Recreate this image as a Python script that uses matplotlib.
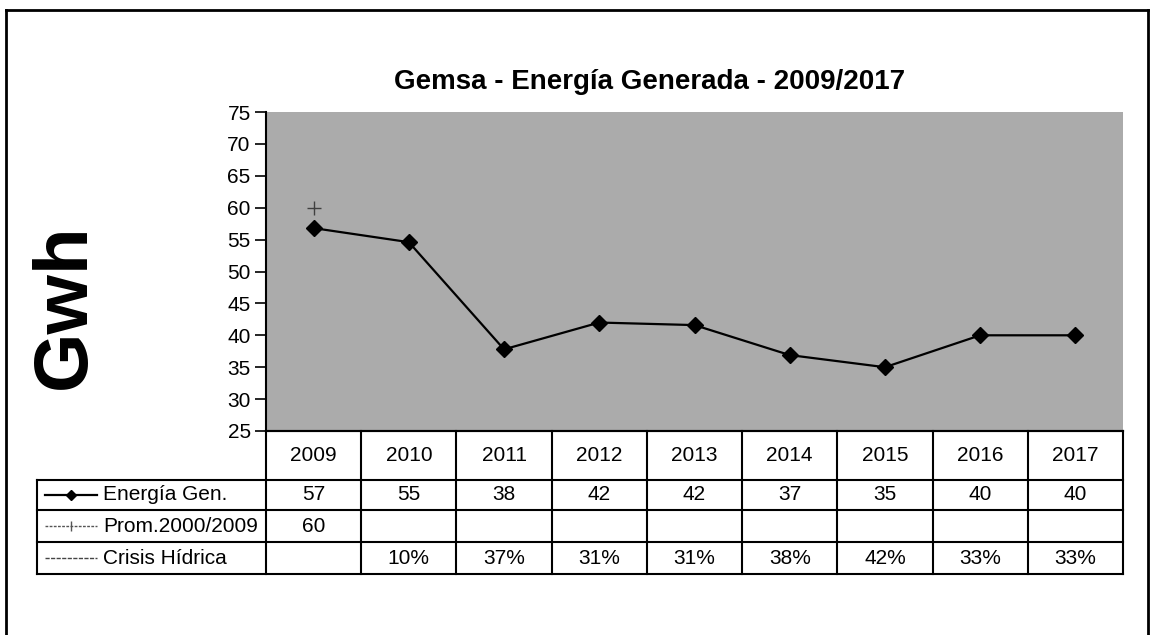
import matplotlib
matplotlib.use("Agg")
import matplotlib.pyplot as plt
from matplotlib.lines import Line2D
from matplotlib.transforms import blended_transform_factory

plt.rcParams['font.family'] = ['Liberation Sans', 'DejaVu Sans']

# ---------------- data ----------------
years = ['2009', '2010', '2011', '2012', '2013', '2014', '2015', '2016', '2017']
energia = [56.8, 54.6, 37.8, 42.0, 41.6, 36.9, 35.0, 40.0, 40.0]
promedio = [60, None, None, None, None, None, None, None, None]
crisis = [None, '10%', '37%', '31%', '31%', '38%', '42%', '33%', '33%']
row_labels = ['Energía Gen.', 'Prom.2000/2009', 'Crisis Hídrica']
title = 'Gemsa - Energía Generada - 2009/2017'
ylabel = 'Gwh'
yticks = [25, 30, 35, 40, 45, 50, 55, 60, 65, 70, 75]

W, H = 1152, 635
fig = plt.figure(figsize=(W / 100, H / 100), dpi=100)

def fx(px):
    return px / W

def fy(py):
    return 1 - py / H

# axes area (pixels)
L, R, T, B = 266, 1123, 112, 431
ax = fig.add_axes([fx(L), fy(B), fx(R) - fx(L), fy(T) - fy(B)])
ax.set_facecolor('#ababab')
xs = list(range(len(years)))
ax.plot(xs, energia, color='black', lw=1.6, marker='D', ms=8, mfc='black', mec='black', zorder=3)
px = [x for x, v in zip(xs, promedio) if v is not None]
pv = [v for v in promedio if v is not None]
ax.plot(px, pv, ls='none', marker='+', ms=10, mew=1.0, color='#404040', zorder=3)
ax.set_xlim(-0.5, len(years) - 0.5)
ax.set_ylim(25, 75)
ax.set_yticks(yticks)
ax.set_xticks([])
ax.tick_params(axis='y', length=8, width=1.2, pad=3, labelsize=15, direction='out')
for s in ['top', 'right']:
    ax.spines[s].set_visible(False)
ax.spines['left'].set_linewidth(1.5)
ax.spines['bottom'].set_linewidth(1.5)

fig.text(fx(650), fy(82), title, ha='center', va='center', fontsize=20, fontweight='bold')
fig.text(fx(65), fy(306), ylabel, ha='center', va='center', rotation=90, fontsize=55, fontweight='bold')

# ---------------- table ----------------
tr = blended_transform_factory(ax.transData, fig.transFigure)
row_y = [431, 480, 510, 542, 574]  # pixel boundaries
lw = 1.5
TL = 37
FS = 15
# horizontal lines
fig.add_artist(Line2D([fx(L), fx(R)], [fy(row_y[0])] * 2, color='black', lw=lw))
for y in row_y[1:]:
    fig.add_artist(Line2D([fx(TL), fx(R)], [fy(y)] * 2, color='black', lw=lw))
# vertical lines
for i in range(len(years) + 1):
    x = fx(L + (R - L) * i / len(years))
    fig.add_artist(Line2D([x, x], [fy(row_y[0]), fy(row_y[-1])], color='black', lw=lw))
fig.add_artist(Line2D([fx(TL), fx(TL)], [fy(row_y[1]), fy(row_y[-1])], color='black', lw=lw))

def cy(r):
    return fy((row_y[r] + row_y[r + 1]) / 2)

for i, yr in enumerate(years):
    ax.text(i, cy(0), yr, transform=tr, ha='center', va='center', fontsize=FS)
    ax.text(i, cy(1), f'{round(energia[i])}', transform=tr, ha='center', va='center', fontsize=FS)
    if promedio[i] is not None:
        ax.text(i, cy(2), f'{promedio[i]}', transform=tr, ha='center', va='center', fontsize=FS)
    if crisis[i] is not None:
        ax.text(i, cy(3), crisis[i], transform=tr, ha='center', va='center', fontsize=FS)

# row labels with legend keys
styles = [
    dict(color='black', lw=1.6, marker='D', ms=5),
    dict(color='#555555', lw=1.0, ls=(0, (2, 1)), marker='|', ms=7),
    dict(color='#444444', lw=1.0, ls=(0, (3, 1))),
]
for r, (lab, st) in enumerate(zip(row_labels, styles)):
    y = cy(r + 1)
    fig.add_artist(Line2D([fx(45), fx(97)], [y, y], **{k: v for k, v in st.items() if k not in ('marker', 'ms')}))
    if 'marker' in st:
        fig.add_artist(Line2D([fx(71)], [y], ls='none', marker=st['marker'], ms=st['ms'],
                              color=st['color'], mec=st['color']))
    fig.text(fx(103), y, lab, ha='left', va='center', fontsize=FS)

# outer frame
fig.add_artist(Line2D([fx(6), fx(1148)], [fy(10)] * 2, color='black', lw=2))
fig.add_artist(Line2D([fx(6), fx(6)], [fy(10), 0], color='black', lw=2))
fig.add_artist(Line2D([fx(1148), fx(1148)], [fy(10), 0], color='black', lw=2))

fig.savefig('out.png', dpi=100)
